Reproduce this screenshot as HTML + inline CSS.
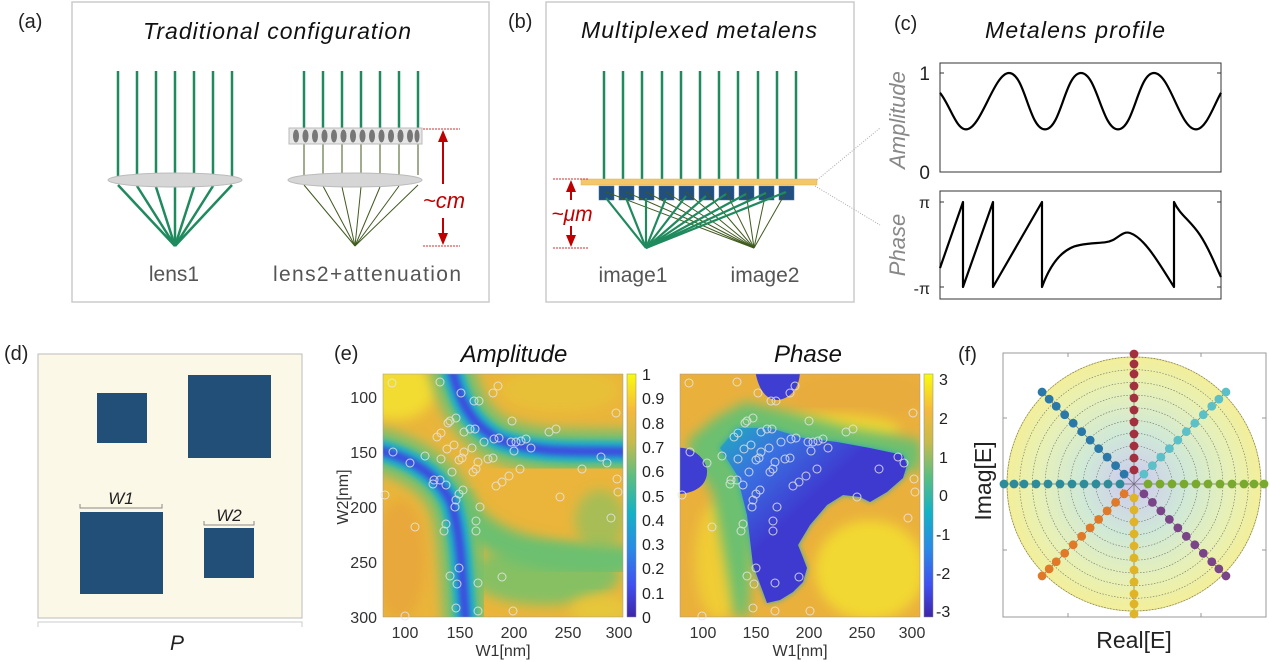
<!DOCTYPE html>
<html><head><meta charset="utf-8"><style>
html,body{margin:0;padding:0;background:#fff;}
svg{display:block;font-family:"Liberation Sans",sans-serif;}
</style></head><body>
<svg width="1269" height="662" viewBox="0 0 1269 662" xmlns="http://www.w3.org/2000/svg">
<defs>
<linearGradient id="parula" x1="0" y1="1" x2="0" y2="0">
<stop offset="0" stop-color="#3e26a8"/><stop offset="0.13" stop-color="#4150f0"/><stop offset="0.28" stop-color="#2a8ae6"/><stop offset="0.43" stop-color="#13b2c5"/><stop offset="0.58" stop-color="#5dbe80"/><stop offset="0.72" stop-color="#c6bb4c"/><stop offset="0.85" stop-color="#f5b93c"/><stop offset="1" stop-color="#f9fb0e"/>
</linearGradient>
<linearGradient id="pblue" gradientUnits="userSpaceOnUse" x1="725" y1="430" x2="800" y2="510">
<stop offset="0" stop-color="#22a8c0"/><stop offset="0.45" stop-color="#3a70e0"/><stop offset="1" stop-color="#3e3ad0"/>
</linearGradient>
<filter id="bl" x="-20%" y="-20%" width="140%" height="140%"><feGaussianBlur stdDeviation="6"/></filter>
<filter id="bl2" x="-20%" y="-20%" width="140%" height="140%"><feGaussianBlur stdDeviation="3"/></filter>
<filter id="bl1"><feGaussianBlur stdDeviation="1"/></filter>
<clipPath id="cA"><rect x="383" y="374" width="240" height="243"/></clipPath>
<clipPath id="cP"><rect x="680" y="374" width="240" height="243"/></clipPath>
<radialGradient id="disk" cx="0.5" cy="0.5" r="0.5">
<stop offset="0" stop-color="#cfc8ef"/><stop offset="0.4" stop-color="#cfe8d8"/><stop offset="0.75" stop-color="#e6f0b8"/><stop offset="1" stop-color="#f3ef9a"/>
</radialGradient>
<g id="spoke">
<circle cx="14" cy="0" r="4.4"/><circle cx="26" cy="0" r="4.4"/><circle cx="38" cy="0" r="4.4"/><circle cx="50" cy="0" r="4.4"/><circle cx="62" cy="0" r="4.4"/><circle cx="74" cy="0" r="4.4"/><circle cx="86" cy="0" r="4.4"/><circle cx="98" cy="0" r="4.4"/><circle cx="110" cy="0" r="4.4"/><circle cx="120" cy="0" r="4.4"/><circle cx="130" cy="0" r="4.4"/>
</g>
</defs>

<!-- Panel a -->
<text x="18" y="28" font-size="20" fill="#222">(a)</text>
<rect x="72" y="2" width="417" height="300" fill="#fff" stroke="#ccc" stroke-width="1.5"/>
<text x="277" y="39" font-size="23" font-style="italic" text-anchor="middle" textLength="268" fill="#111">Traditional configuration</text>
<g stroke="#1f8a5e" stroke-width="2.5">
<line x1="118" y1="71" x2="118" y2="176"/><line x1="137" y1="71" x2="137" y2="176"/><line x1="156" y1="71" x2="156" y2="176"/><line x1="175" y1="71" x2="175" y2="176"/><line x1="194" y1="71" x2="194" y2="176"/><line x1="213" y1="71" x2="213" y2="176"/><line x1="232" y1="71" x2="232" y2="176"/>
<line x1="118" y1="185" x2="175" y2="246"/><line x1="137" y1="186" x2="175" y2="246"/><line x1="156" y1="187" x2="175" y2="246"/><line x1="175" y1="187" x2="175" y2="246"/><line x1="194" y1="187" x2="175" y2="246"/><line x1="213" y1="186" x2="175" y2="246"/><line x1="232" y1="185" x2="175" y2="246"/>
<line x1="342" y1="71" x2="342" y2="128"/><line x1="361" y1="71" x2="361" y2="128"/><line x1="380" y1="71" x2="380" y2="128"/><line x1="399" y1="71" x2="399" y2="128"/><line x1="418" y1="71" x2="418" y2="128"/><line x1="323" y1="71" x2="323" y2="128"/><line x1="304" y1="71" x2="304" y2="128"/>
</g>
<ellipse cx="175" cy="180" rx="67" ry="7" fill="#d6d6d6" stroke="#bbb"/>
<g stroke="#3f5a1e" stroke-width="1">
<line x1="304" y1="144" x2="304" y2="175"/><line x1="323" y1="144" x2="323" y2="175"/><line x1="342" y1="144" x2="342" y2="175"/><line x1="361" y1="144" x2="361" y2="175"/><line x1="380" y1="144" x2="380" y2="175"/><line x1="399" y1="144" x2="399" y2="175"/><line x1="418" y1="144" x2="418" y2="175"/>
<line x1="304" y1="185" x2="355" y2="246"/><line x1="323" y1="186" x2="355" y2="246"/><line x1="342" y1="187" x2="355" y2="246"/><line x1="361" y1="187" x2="355" y2="246"/><line x1="380" y1="187" x2="355" y2="246"/><line x1="399" y1="186" x2="355" y2="246"/><line x1="418" y1="185" x2="355" y2="246"/>
</g>
<ellipse cx="355" cy="180" rx="67" ry="7" fill="#d6d6d6" stroke="#bbb"/>
<rect x="289" y="128" width="133" height="16" fill="#e6e6e6" stroke="#bbb"/>
<g fill="#777">
<ellipse cx="296" cy="136" rx="3" ry="6.5"/><ellipse cx="305.5" cy="136" rx="3" ry="6.5"/><ellipse cx="315" cy="136" rx="3" ry="6.5"/><ellipse cx="324.5" cy="136" rx="3" ry="6.5"/><ellipse cx="334" cy="136" rx="3" ry="6.5"/><ellipse cx="343.5" cy="136" rx="3" ry="6.5"/><ellipse cx="353" cy="136" rx="3" ry="6.5"/><ellipse cx="362.5" cy="136" rx="3" ry="6.5"/><ellipse cx="372" cy="136" rx="3" ry="6.5"/><ellipse cx="381.5" cy="136" rx="3" ry="6.5"/><ellipse cx="391" cy="136" rx="3" ry="6.5"/><ellipse cx="400.5" cy="136" rx="3" ry="6.5"/><ellipse cx="410" cy="136" rx="3" ry="6.5"/><ellipse cx="417" cy="136" rx="2.5" ry="6.5"/>
</g>
<g stroke="#d03030" stroke-width="1" stroke-dasharray="2,1"><line x1="423" y1="129" x2="460" y2="129"/><line x1="423" y1="246" x2="460" y2="246"/></g>
<g stroke="#c00000" stroke-width="2"><line x1="443" y1="140" x2="443" y2="184"/><line x1="443" y1="218" x2="443" y2="236"/></g>
<polygon points="443,130 438,142 448,142" fill="#c00000"/><polygon points="443,245 438,233 448,233" fill="#c00000"/>
<text x="444" y="208" font-size="22" font-style="italic" fill="#c00000" text-anchor="middle">~cm</text>
<text x="174" y="281" font-size="21" fill="#555" text-anchor="middle">lens1</text>
<text x="367" y="281" font-size="21" fill="#555" text-anchor="middle" textLength="188">lens2+attenuation</text>

<!-- Panel b -->
<text x="508" y="28" font-size="20" fill="#222">(b)</text>
<rect x="546" y="2" width="308" height="300" fill="#fff" stroke="#ccc" stroke-width="1.5"/>
<text x="699" y="38" font-size="23" font-style="italic" text-anchor="middle" textLength="236" fill="#111">Multiplexed metalens</text>
<g stroke="#1f8a5e" stroke-width="2.5">
<line x1="604" y1="71" x2="604" y2="179"/><line x1="623" y1="71" x2="623" y2="179"/><line x1="642" y1="71" x2="642" y2="179"/><line x1="662" y1="71" x2="662" y2="179"/><line x1="681" y1="71" x2="681" y2="179"/><line x1="700" y1="71" x2="700" y2="179"/><line x1="719" y1="71" x2="719" y2="179"/><line x1="738" y1="71" x2="738" y2="179"/><line x1="758" y1="71" x2="758" y2="179"/><line x1="777" y1="71" x2="777" y2="179"/><line x1="796" y1="71" x2="796" y2="179"/>
</g>
<g fill="#204f80" stroke="#4070a0" stroke-width="0.5">
<rect x="599" y="186" width="15" height="14"/><rect x="619" y="186" width="15" height="14"/><rect x="639" y="186" width="15" height="14"/><rect x="659" y="186" width="15" height="14"/><rect x="679" y="186" width="15" height="14"/><rect x="699" y="186" width="15" height="14"/><rect x="719" y="186" width="15" height="14"/><rect x="739" y="186" width="15" height="14"/><rect x="759" y="186" width="15" height="14"/><rect x="779" y="186" width="15" height="14"/>
</g>
<g stroke="#3f5a1e" stroke-width="1">
<line x1="606" y1="192" x2="754" y2="248"/><line x1="626" y1="192" x2="754" y2="248"/><line x1="646" y1="192" x2="754" y2="248"/><line x1="666" y1="192" x2="754" y2="248"/><line x1="686" y1="192" x2="754" y2="248"/><line x1="706" y1="192" x2="754" y2="248"/><line x1="726" y1="192" x2="754" y2="248"/><line x1="746" y1="192" x2="754" y2="248"/><line x1="766" y1="192" x2="754" y2="248"/><line x1="786" y1="192" x2="754" y2="248"/>
</g>
<g stroke="#1f8a5e" stroke-width="2.2">
<line x1="606" y1="198" x2="646" y2="248"/><line x1="626" y1="198" x2="646" y2="248"/><line x1="646" y1="198" x2="646" y2="248"/><line x1="666" y1="198" x2="646" y2="248"/><line x1="686" y1="196" x2="646" y2="248"/><line x1="706" y1="196" x2="646" y2="248"/><line x1="726" y1="194" x2="646" y2="248"/><line x1="746" y1="194" x2="646" y2="248"/><line x1="766" y1="193" x2="646" y2="248"/><line x1="786" y1="192" x2="646" y2="248"/>
</g>
<rect x="581" y="179" width="236" height="6" fill="#f3c86a" stroke="#e0b050" stroke-width="0.5"/>
<g stroke="#d03030" stroke-width="1" stroke-dasharray="2,1"><line x1="553" y1="179" x2="588" y2="179"/><line x1="553" y1="248" x2="588" y2="248"/></g>
<g stroke="#c00000" stroke-width="2"><line x1="571" y1="190" x2="571" y2="200"/><line x1="571" y1="226" x2="571" y2="238"/></g>
<polygon points="571,180 566,192 576,192" fill="#c00000"/><polygon points="571,247 566,235 576,235" fill="#c00000"/>
<text x="572" y="221" font-size="21" font-style="italic" fill="#c00000" text-anchor="middle">~μm</text>
<text x="633" y="282" font-size="21" fill="#555" text-anchor="middle">image1</text>
<text x="765" y="282" font-size="21" fill="#555" text-anchor="middle">image2</text>
<g stroke="#aaa" stroke-width="1" stroke-dasharray="1,1.5"><line x1="817" y1="180" x2="880" y2="128"/><line x1="815" y1="186" x2="880" y2="225"/></g>

<!-- Panel c -->
<text x="894" y="30" font-size="20" fill="#222">(c)</text>
<text x="1075" y="38" font-size="23" font-style="italic" text-anchor="middle" textLength="180" fill="#111">Metalens profile</text>
<rect x="940" y="63" width="281" height="109" fill="none" stroke="#333" stroke-width="1"/>
<rect x="940" y="191" width="281" height="108" fill="none" stroke="#333" stroke-width="1"/>
<g stroke="#333" stroke-width="1"><line x1="940" y1="73" x2="944" y2="73"/><line x1="1221" y1="73" x2="1217" y2="73"/><line x1="940" y1="202" x2="944" y2="202"/><line x1="1221" y1="202" x2="1217" y2="202"/><line x1="940" y1="287" x2="944" y2="287"/><line x1="1221" y1="287" x2="1217" y2="287"/></g>
<text x="930" y="80" font-size="19" fill="#222" text-anchor="end">1</text>
<text x="930" y="179" font-size="19" fill="#222" text-anchor="end">0</text>
<text x="930" y="208" font-size="16" fill="#222" text-anchor="end">π</text>
<text x="930" y="294" font-size="16" fill="#222" text-anchor="end">-π</text>
<text transform="translate(905,120) rotate(-90)" font-size="22" font-style="italic" fill="#888" text-anchor="middle">Amplitude</text>
<text transform="translate(905,245) rotate(-90)" font-size="22" font-style="italic" fill="#888" text-anchor="middle">Phase</text>
<path d="M940,92.8 C950,105 956,129.4 966,129.4 C981,129.4 994,73 1009,73 C1025,73 1029,129.4 1045,129.4 C1061,129.4 1065,73 1081,73 C1097,73 1102,129.4 1118,129.4 C1134,129.4 1138,73 1154,73 C1170,73 1180,129.4 1196,129.4 C1206,129.4 1214,105 1221,92.8" fill="none" stroke="#000" stroke-width="2.2"/>
<path d="M940,268 L963,202 L963,287 L993,202 L993,287 L1042,202 L1042,287 C1050,265 1062,248 1080,245 C1095,242 1105,244 1113,240 C1120,236 1124,231 1130,233 C1145,238 1160,265 1174,287 L1174,202 C1180,215 1190,220 1200,235 C1210,250 1215,265 1221,277" fill="none" stroke="#000" stroke-width="2.2" stroke-linejoin="round"/>

<!-- Panel d -->
<text x="4" y="360" font-size="20" fill="#222">(d)</text>
<rect x="38" y="354" width="264" height="264" fill="#fcf8e8" stroke="#bbb" stroke-width="1"/>
<g fill="#214f77">
<rect x="97" y="393" width="50" height="50"/><rect x="188" y="375" width="83" height="83"/><rect x="80" y="512" width="83" height="82"/><rect x="204" y="528" width="50" height="50"/>
</g>
<path d="M80,504 V508 H162 V504 M204,521 V525 H254 V521" fill="none" stroke="#888" stroke-width="1"/>
<text x="121" y="504" font-size="17" font-style="italic" fill="#222" text-anchor="middle">W1</text>
<text x="229" y="521" font-size="17" font-style="italic" fill="#222" text-anchor="middle">W2</text>
<path d="M38,627 V622 H302 V627" fill="none" stroke="#ccc" stroke-width="1"/>
<text x="177" y="650" font-size="21" font-style="italic" fill="#222" text-anchor="middle">P</text>

<!-- Panel e -->
<text x="334" y="360" font-size="20" fill="#222">(e)</text>
<text x="514" y="362" font-size="24" font-style="italic" fill="#111" text-anchor="middle">Amplitude</text>
<text x="808" y="362" font-size="24" font-style="italic" fill="#111" text-anchor="middle">Phase</text>
<!-- amplitude map -->
<g clip-path="url(#cA)">
<rect x="383" y="374" width="240" height="243" fill="#eab53a"/>
<ellipse cx="395" cy="390" rx="40" ry="30" fill="#f2dc30" filter="url(#bl)"/>
<ellipse cx="560" cy="390" rx="60" ry="22" fill="#e8c038" filter="url(#bl)"/>
<ellipse cx="400" cy="560" rx="25" ry="60" fill="#e8a83a" filter="url(#bl)"/>
<ellipse cx="545" cy="575" rx="75" ry="30" fill="#86c064" filter="url(#bl)"/>
<ellipse cx="600" cy="520" rx="25" ry="30" fill="#a8bd55" filter="url(#bl)"/>
<ellipse cx="600" cy="610" rx="30" ry="15" fill="#e6c63a" filter="url(#bl)"/>
<g fill="none" stroke-linecap="round">
<path d="M452,370 C460,400 470,425 500,440 C540,455 580,450 630,452" stroke="#74c070" stroke-width="44" filter="url(#bl)"/>
<path d="M378,450 C410,458 440,475 452,505 C462,540 462,580 466,625" stroke="#74c070" stroke-width="44" filter="url(#bl)"/>
<path d="M455,500 C480,540 520,560 620,560" stroke="#6cc070" stroke-width="30" filter="url(#bl)"/>
<path d="M452,370 C460,400 470,425 500,440 C540,455 580,450 630,452" stroke="#1fb0c8" stroke-width="22" filter="url(#bl2)"/>
<path d="M378,450 C410,458 440,475 452,505 C462,540 462,580 466,625" stroke="#1fb0c8" stroke-width="22" filter="url(#bl2)"/>
<path d="M452,370 C460,400 470,425 500,440 C540,455 580,450 630,452" stroke="#3d48e0" stroke-width="9" filter="url(#bl2)"/>
<path d="M378,450 C410,458 440,475 452,505 C462,540 462,580 466,625" stroke="#3d48e0" stroke-width="9" filter="url(#bl2)"/>
</g>
</g>
<rect x="383" y="374" width="240" height="243" fill="none" stroke="#999" stroke-width="0.5"/>
<rect x="627" y="374" width="9" height="243" fill="url(#parula)" stroke="#888" stroke-width="0.5"/>
<g font-size="16" fill="#222">
<text x="642" y="380">1</text><text x="642" y="404">0.9</text><text x="642" y="429">0.8</text><text x="642" y="453">0.7</text><text x="642" y="477">0.6</text><text x="642" y="502">0.5</text><text x="642" y="526">0.4</text><text x="642" y="550">0.3</text><text x="642" y="574">0.2</text><text x="642" y="599">0.1</text><text x="642" y="623">0</text>
</g>
<!-- phase map -->
<g clip-path="url(#cP)">
<rect x="680" y="374" width="240" height="243" fill="#eab03c"/>
<ellipse cx="860" cy="395" rx="70" ry="25" fill="#e8ac3c" filter="url(#bl)"/>
<ellipse cx="870" cy="570" rx="55" ry="50" fill="#f2d830" filter="url(#bl)"/>
<ellipse cx="720" cy="560" rx="25" ry="60" fill="#f0cc34" filter="url(#bl)"/>
<ellipse cx="830" cy="430" rx="70" ry="16" fill="#f0d430" filter="url(#bl)"/>
<path d="M688,440 L715,418 L745,402 L790,412 L850,428 L921,440 L921,470 L760,480 L752,560 L748,617 L735,617 L725,560 L712,490 L690,462 Z" fill="#6cc070" filter="url(#bl)"/>
<path d="M737,475 L720,448 L737,428 L770,428 L803,438 L837,442 L870,448 L903,455 L907,465 L903,478 L887,492 L870,502 L860,497 L843,495 L827,505 L810,525 L798,545 L802,555 L807,568 L803,582 L793,592 L780,600 L767,603 L753,565 L747,515 Z" fill="#22a8c0" filter="url(#bl2)"/>
<path d="M737,475 L720,448 L737,428 L770,428 L803,438 L837,442 L870,448 L903,455 L907,465 L903,478 L887,492 L870,502 L860,497 L843,495 L827,505 L810,525 L798,545 L802,555 L807,568 L803,582 L793,592 L780,600 L767,603 L753,565 L747,515 Z" fill="url(#pblue)"/>
<path d="M755,370 L800,370 C800,385 793,398 778,400 C765,400 758,388 755,370 Z" fill="#3f3ed2"/>
<path d="M676,448 C690,446 705,456 707,470 C708,485 695,494 676,494 Z" fill="#3f3ed2"/>
</g>
<rect x="680" y="374" width="240" height="243" fill="none" stroke="#999" stroke-width="0.5"/>
<rect x="924" y="374" width="9" height="243" fill="url(#parula)" stroke="#888" stroke-width="0.5"/>
<g font-size="16" fill="#222">
<text x="939" y="385">3</text><text x="939" y="424">2</text><text x="939" y="463">1</text><text x="939" y="501">0</text><text x="936" y="540">-1</text><text x="936" y="579">-2</text><text x="936" y="617">-3</text>
</g>
<!-- circles -->
<g id="circA" fill="none" stroke="#e6e6e6" stroke-width="1" opacity="0.85">
<circle cx="392" cy="383" r="4"/><circle cx="440" cy="382" r="4"/><circle cx="461" cy="393" r="4"/><circle cx="474" cy="401" r="4"/><circle cx="479" cy="401" r="4"/><circle cx="498" cy="386" r="4"/><circle cx="493" cy="393" r="4"/><circle cx="616" cy="413" r="4"/><circle cx="456" cy="418" r="4"/><circle cx="450" cy="421" r="4"/><circle cx="448" cy="423" r="4"/><circle cx="441" cy="433" r="4"/><circle cx="437" cy="437" r="4"/><circle cx="470" cy="429" r="4"/><circle cx="464" cy="432" r="4"/><circle cx="475" cy="429" r="4"/><circle cx="549" cy="432" r="4"/><circle cx="556" cy="429" r="4"/><circle cx="512" cy="421" r="4"/><circle cx="494" cy="439" r="4"/><circle cx="484" cy="442" r="4"/><circle cx="472" cy="448" r="4"/><circle cx="464" cy="452" r="4"/><circle cx="454" cy="445" r="4"/><circle cx="447" cy="449" r="4"/><circle cx="441" cy="459" r="4"/><circle cx="462" cy="458" r="4"/><circle cx="459" cy="460" r="4"/><circle cx="478" cy="462" r="4"/><circle cx="473" cy="472" r="4"/><circle cx="476" cy="469" r="4"/><circle cx="488" cy="459" r="4"/><circle cx="493" cy="458" r="4"/><circle cx="499" cy="438" r="4"/><circle cx="511" cy="442" r="4"/><circle cx="516" cy="442" r="4"/><circle cx="521" cy="441" r="4"/><circle cx="526" cy="439" r="4"/><circle cx="531" cy="448" r="4"/><circle cx="514" cy="451" r="4"/><circle cx="393" cy="452" r="4"/><circle cx="425" cy="456" r="4"/><circle cx="410" cy="463" r="4"/><circle cx="434" cy="480" r="4"/><circle cx="440" cy="480" r="4"/><circle cx="446" cy="485" r="4"/><circle cx="452" cy="472" r="4"/><circle cx="433" cy="484" r="4"/><circle cx="496" cy="486" r="4"/><circle cx="502" cy="482" r="4"/><circle cx="509" cy="476" r="4"/><circle cx="520" cy="469" r="4"/><circle cx="582" cy="469" r="4"/><circle cx="601" cy="457" r="4"/><circle cx="607" cy="463" r="4"/><circle cx="617" cy="479" r="4"/><circle cx="618" cy="492" r="4"/><circle cx="560" cy="497" r="4"/><circle cx="611" cy="518" r="4"/><circle cx="463" cy="490" r="4"/><circle cx="459" cy="494" r="4"/><circle cx="456" cy="500" r="4"/><circle cx="455" cy="507" r="4"/><circle cx="480" cy="507" r="4"/><circle cx="476" cy="521" r="4"/><circle cx="476" cy="531" r="4"/><circle cx="415" cy="527" r="4"/><circle cx="446" cy="524" r="4"/><circle cx="444" cy="531" r="4"/><circle cx="459" cy="568" r="4"/><circle cx="450" cy="576" r="4"/><circle cx="457" cy="584" r="4"/><circle cx="502" cy="577" r="4"/><circle cx="478" cy="583" r="4"/><circle cx="456" cy="608" r="4"/><circle cx="478" cy="611" r="4"/><circle cx="513" cy="611" r="4"/><circle cx="405" cy="616" r="4"/><circle cx="385" cy="495" r="4"/>
</g>
<use href="#circA" transform="translate(297,0)"/>
<!-- e axes -->
<g font-size="16" fill="#333" text-anchor="end">
<text x="377" y="403">100</text><text x="377" y="458">150</text><text x="377" y="513">200</text><text x="377" y="568">250</text><text x="377" y="623">300</text>
</g>
<g font-size="16" fill="#333" text-anchor="middle">
<text x="405" y="638">100</text><text x="460" y="638">150</text><text x="514" y="638">200</text><text x="568" y="638">250</text><text x="619" y="638">300</text>
<text x="703" y="638">100</text><text x="756" y="638">150</text><text x="809" y="638">200</text><text x="862" y="638">250</text><text x="912" y="638">300</text>
<text x="503" y="656">W1[nm]</text><text x="800" y="656">W1[nm]</text>
</g>
<text transform="translate(348,497) rotate(-90)" font-size="16" fill="#333" text-anchor="middle">W2[nm]</text>

<!-- Panel f -->
<text x="958" y="361" font-size="20" fill="#222">(f)</text>
<rect x="1003" y="353" width="263" height="264" fill="#fff" stroke="#999" stroke-width="1"/>
<g stroke="#999" stroke-width="1"><line x1="1068" y1="617" x2="1068" y2="613"/><line x1="1134" y1="617" x2="1134" y2="613"/><line x1="1201" y1="617" x2="1201" y2="613"/><line x1="1003" y1="418" x2="1007" y2="418"/><line x1="1003" y1="484" x2="1007" y2="484"/><line x1="1003" y1="550" x2="1007" y2="550"/><line x1="1068" y1="353" x2="1068" y2="357"/><line x1="1201" y1="353" x2="1201" y2="357"/><line x1="1266" y1="418" x2="1262" y2="418"/><line x1="1266" y1="550" x2="1262" y2="550"/></g>
<circle cx="1134" cy="484" r="127" fill="url(#disk)" stroke="#d6d080" stroke-width="1"/>
<g fill="none" stroke="#555" stroke-width="0.6" stroke-dasharray="1.5,1.5" opacity="0.8">
<circle cx="1134" cy="484" r="12.7"/><circle cx="1134" cy="484" r="25.4"/><circle cx="1134" cy="484" r="38.1"/><circle cx="1134" cy="484" r="50.8"/><circle cx="1134" cy="484" r="63.5"/><circle cx="1134" cy="484" r="76.2"/><circle cx="1134" cy="484" r="88.9"/><circle cx="1134" cy="484" r="101.6"/><circle cx="1134" cy="484" r="114.3"/><circle cx="1134" cy="484" r="127"/>
</g>
<g stroke="#555" stroke-width="0.7" opacity="0.8">
<line x1="1007" y1="484" x2="1262" y2="484"/><line x1="1134" y1="357" x2="1134" y2="611"/><line x1="1044" y1="394" x2="1224" y2="574"/><line x1="1044" y1="574" x2="1224" y2="394"/>
</g>
<use href="#spoke" transform="translate(1134,484) rotate(0)" fill="#79a92e"/>
<use href="#spoke" transform="translate(1134,484) rotate(-45)" fill="#5cc0c8"/>
<use href="#spoke" transform="translate(1134,484) rotate(-90)" fill="#a3303e"/>
<use href="#spoke" transform="translate(1134,484) rotate(-135)" fill="#2a78a8"/>
<use href="#spoke" transform="translate(1134,484) rotate(180)" fill="#2e8c9a"/>
<use href="#spoke" transform="translate(1134,484) rotate(135)" fill="#e07a28"/>
<use href="#spoke" transform="translate(1134,484) rotate(90)" fill="#e0b428"/>
<use href="#spoke" transform="translate(1134,484) rotate(45)" fill="#7a4488"/>
<text transform="translate(991,481) rotate(-90)" font-size="23" fill="#222" text-anchor="middle">Imag[E]</text>
<text x="1134" y="648" font-size="23" fill="#222" text-anchor="middle">Real[E]</text>
</svg>
</body></html>
